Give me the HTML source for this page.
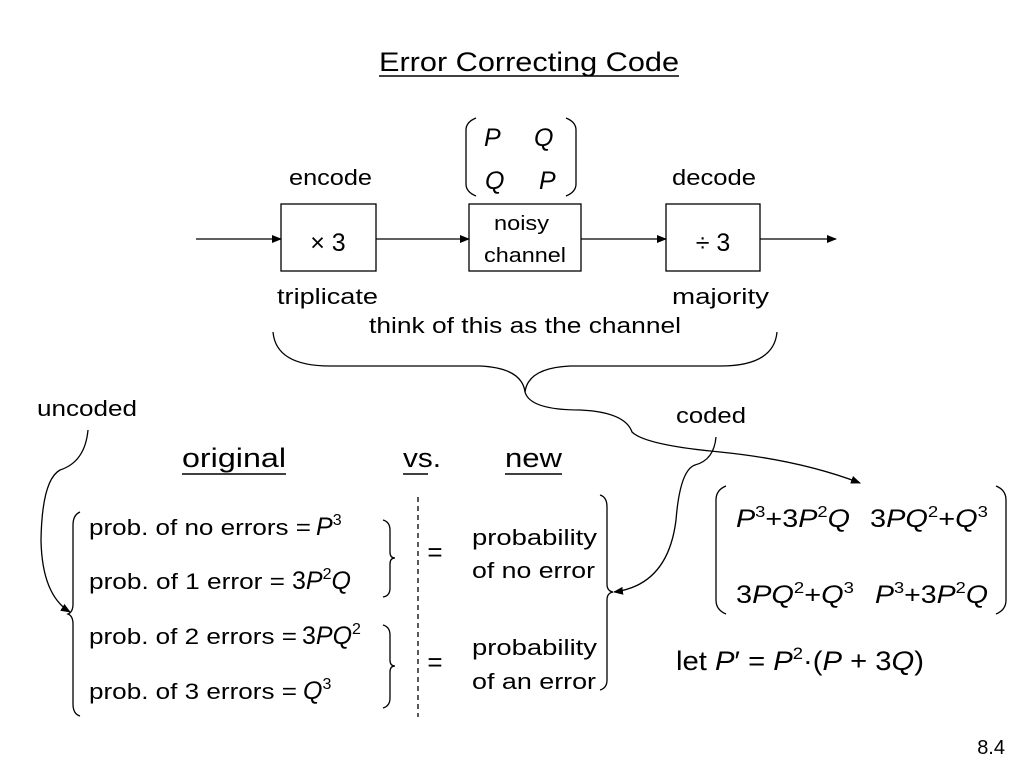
<!DOCTYPE html>
<html><head><meta charset="utf-8"><style>
html,body{margin:0;padding:0;background:#fff;}
svg{display:block;font-family:"Liberation Sans",sans-serif;}
</style></head><body>
<svg width="1024" height="768" viewBox="0 0 1024 768" xmlns="http://www.w3.org/2000/svg">
<defs><marker id="a" markerWidth="10" markerHeight="8" refX="9" refY="4" orient="auto" markerUnits="userSpaceOnUse"><path d="M0,0 L10,4 L0,8 Z" fill="#000"/></marker></defs>
<g fill="#000" stroke="none" lengthAdjust="spacingAndGlyphs">
<text x="379" y="71" font-size="27" textLength="300" lengthAdjust="spacingAndGlyphs">Error Correcting Code</text>
<line x1="379" y1="76" x2="679" y2="76" stroke="#000" stroke-width="1.5"/>
<g font-style="italic" font-size="25">
<text x="484" y="146">P</text><text x="534" y="146">Q</text>
<text x="485" y="189">Q</text><text x="539" y="189">P</text>
</g>
<text x="289" y="185" font-size="22" textLength="83" lengthAdjust="spacingAndGlyphs">encode</text>
<text x="672" y="185" font-size="22" textLength="84" lengthAdjust="spacingAndGlyphs">decode</text>
<text x="328" y="251" font-size="25" text-anchor="middle">× 3</text>
<text x="713" y="251" font-size="25" text-anchor="middle">÷ 3</text>
<text x="494" y="230" font-size="20" textLength="55" lengthAdjust="spacingAndGlyphs">noisy</text>
<text x="484" y="262" font-size="20" textLength="82" lengthAdjust="spacingAndGlyphs">channel</text>
<text x="277" y="304" font-size="22" textLength="101" lengthAdjust="spacingAndGlyphs">triplicate</text>
<text x="672" y="304" font-size="22" textLength="97" lengthAdjust="spacingAndGlyphs">majority</text>
<text x="369" y="333" font-size="22" textLength="312" lengthAdjust="spacingAndGlyphs">think of this as the channel</text>
<text x="37" y="416" font-size="22" textLength="100" lengthAdjust="spacingAndGlyphs">uncoded</text>
<text x="676" y="423" font-size="22" textLength="70" lengthAdjust="spacingAndGlyphs">coded</text>
<text x="182" y="467" font-size="27" textLength="104" lengthAdjust="spacingAndGlyphs">original</text>
<line x1="182" y1="474" x2="286" y2="474" stroke="#000" stroke-width="1.5"/>
<text x="403" y="467" font-size="27" textLength="38" lengthAdjust="spacingAndGlyphs">vs.</text>
<line x1="403" y1="474" x2="428" y2="474" stroke="#000" stroke-width="1.5"/>
<text x="505" y="467" font-size="27" textLength="57" lengthAdjust="spacingAndGlyphs">new</text>
<line x1="505" y1="474" x2="562" y2="474" stroke="#000" stroke-width="1.5"/>
<g font-size="22">
<text x="89" y="535" textLength="222" lengthAdjust="spacingAndGlyphs">prob. of no errors =</text>
<text x="316" y="535" font-size="25"><tspan font-style="italic">P</tspan><tspan font-size="16" dy="-10">3</tspan></text>
<text x="89" y="589" textLength="196" lengthAdjust="spacingAndGlyphs">prob. of 1 error =</text>
<text x="292" y="589" font-size="25">3<tspan font-style="italic">P</tspan><tspan font-size="16" dy="-10">2</tspan><tspan font-style="italic" dy="10">Q</tspan></text>
<text x="89" y="644" textLength="208" lengthAdjust="spacingAndGlyphs">prob. of 2 errors =</text>
<text x="302" y="644" font-size="25">3<tspan font-style="italic">PQ</tspan><tspan font-size="16" dy="-10">2</tspan></text>
<text x="89" y="699" textLength="208" lengthAdjust="spacingAndGlyphs">prob. of 3 errors =</text>
<text x="303" y="699" font-size="25"><tspan font-style="italic">Q</tspan><tspan font-size="16" dy="-10">3</tspan></text>
<text x="472" y="545" textLength="125" lengthAdjust="spacingAndGlyphs">probability</text>
<text x="472" y="578" textLength="123" lengthAdjust="spacingAndGlyphs">of no error</text>
<text x="472" y="655" textLength="125" lengthAdjust="spacingAndGlyphs">probability</text>
<text x="472" y="689" textLength="124" lengthAdjust="spacingAndGlyphs">of an error</text>
</g>
<text x="435" y="561" font-size="26" text-anchor="middle">=</text>
<text x="435" y="671" font-size="26" text-anchor="middle">=</text>
<g font-size="25">
<text x="736" y="527" textLength="114" lengthAdjust="spacingAndGlyphs"><tspan font-style="italic">P</tspan><tspan font-size="16" dy="-10">3</tspan><tspan dy="10">+3</tspan><tspan font-style="italic">P</tspan><tspan font-size="16" dy="-10">2</tspan><tspan font-style="italic" dy="10">Q</tspan></text>
<text x="870" y="527" textLength="118" lengthAdjust="spacingAndGlyphs">3<tspan font-style="italic">PQ</tspan><tspan font-size="16" dy="-10">2</tspan><tspan dy="10">+</tspan><tspan font-style="italic">Q</tspan><tspan font-size="16" dy="-10">3</tspan></text>
<text x="736" y="603" textLength="118" lengthAdjust="spacingAndGlyphs">3<tspan font-style="italic">PQ</tspan><tspan font-size="16" dy="-10">2</tspan><tspan dy="10">+</tspan><tspan font-style="italic">Q</tspan><tspan font-size="16" dy="-10">3</tspan></text>
<text x="875" y="603" textLength="113" lengthAdjust="spacingAndGlyphs"><tspan font-style="italic">P</tspan><tspan font-size="16" dy="-10">3</tspan><tspan dy="10">+3</tspan><tspan font-style="italic">P</tspan><tspan font-size="16" dy="-10">2</tspan><tspan font-style="italic" dy="10">Q</tspan></text>
</g>
<text x="676" y="670" font-size="27" textLength="248" lengthAdjust="spacingAndGlyphs">let <tspan font-style="italic">P</tspan>′ = <tspan font-style="italic">P</tspan><tspan font-size="17" dy="-11">2</tspan><tspan dy="11">·(</tspan><tspan font-style="italic">P</tspan> + 3<tspan font-style="italic">Q</tspan>)</text>
<text x="1005" y="754" font-size="20" text-anchor="end">8.4</text>
</g>
<g fill="none" stroke="#000" stroke-width="1.3">
<path d="M476,118 Q466,122 466,130 L466,184 Q466,192 476,196"/>
<path d="M566,118 Q576,122 576,130 L576,184 Q576,192 566,196"/>
<rect x="281" y="204" width="95" height="67"/>
<rect x="469" y="204" width="112" height="67"/>
<rect x="666" y="204" width="94" height="67"/>
<line x1="196" y1="239" x2="281" y2="239" marker-end="url(#a)"/>
<line x1="376" y1="239" x2="469" y2="239" marker-end="url(#a)"/>
<line x1="581" y1="239" x2="666" y2="239" marker-end="url(#a)"/>
<line x1="760" y1="239" x2="836" y2="239" marker-end="url(#a)"/>
<path d="M273,332 Q276,366 330,366 L480,366 Q522,368 525,392 Q528,368 570,366 L720,366 Q774,366 777,332"/>
<path d="M525,392 Q530,410 580,410 Q625,412 632,432 Q645,445 720,452 Q800,460 860,483" marker-end="url(#a)"/>
<path d="M88,430 Q85,462 60,470 Q42,480 41,540 Q42,595 70,612" marker-end="url(#a)"/>
<path d="M716,437 Q714,460 695,465 Q680,470 676,520 Q668,585 614,592" marker-end="url(#a)"/>
<path d="M80,512 Q73,515 73,525 L73,604 Q73,612 68,614 Q73,616 73,624 L73,704 Q73,714 80,716"/>
<path d="M383,520 Q390,522 390,530 L390,552 Q390,558 395,558 Q390,558 390,564 L390,588 Q390,596 383,597"/>
<path d="M383,625 Q390,627 390,635 L390,660 Q390,666 395,666 Q390,666 390,672 L390,698 Q390,706 383,708"/>
<line x1="418" y1="497" x2="418" y2="717" stroke-dasharray="5,4"/>
<path d="M600,495 Q607,497 607,507 L607,584 Q607,591 613,592 Q607,593 607,600 L607,680 Q607,688 600,690"/>
<path d="M726,486 Q716,490 716,500 L716,600 Q716,610 726,614"/>
<path d="M996,486 Q1006,490 1006,500 L1006,600 Q1006,610 996,614"/>
</g>
</svg>
</body></html>
